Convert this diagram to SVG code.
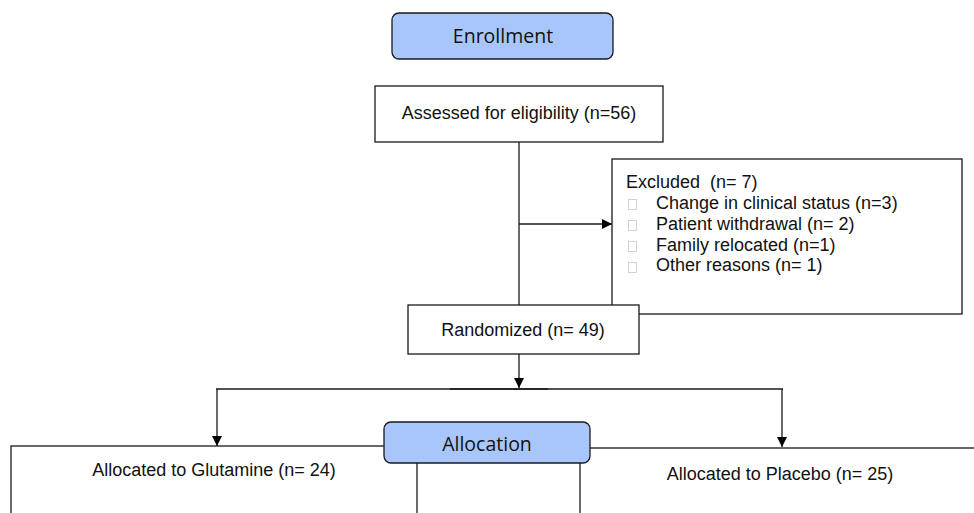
<svg xmlns="http://www.w3.org/2000/svg" width="974" height="513" viewBox="0 0 974 513">
<defs>
<marker id="ah" viewBox="0 0 10 10" refX="10" refY="5" markerWidth="10" markerHeight="10" markerUnits="userSpaceOnUse" orient="auto">
<path d="M0,0 L10,5 L0,10 z" fill="#000"/>
</marker>
<style>
.box{fill:#fff;stroke:#1a1a1a;stroke-width:1.3}
.phase{fill:#a9c6fa;stroke:#1a1a1a;stroke-width:1.3}
.ln{fill:none;stroke:#1a1a1a;stroke-width:1.3}
.t{font-family:"Liberation Sans",Arial,sans-serif;font-size:18px;fill:#111}
.pt{font-family:"Open Sans","Noto Sans",sans-serif;font-size:19.5px;fill:#111;text-anchor:middle}
.sq{fill:#fff;stroke:#c8c8c8;stroke-width:0.8}
</style>
</defs>
<rect width="974" height="513" fill="#fff"/>
<g id="connectors">
<line class="ln" x1="519" y1="142" x2="519" y2="305"/>
<line class="ln" x1="519" y1="224" x2="612" y2="224" marker-end="url(#ah)"/>
<line class="ln" x1="519" y1="354" x2="519" y2="388" marker-end="url(#ah)"/>
<line class="ln" x1="216" y1="389" x2="783" y2="389" stroke="#444"/>
<line class="ln" x1="450" y1="389" x2="548" y2="389" stroke-width="1.6"/>
<line class="ln" x1="217" y1="389" x2="217" y2="446" marker-end="url(#ah)"/>
<line class="ln" x1="782" y1="389" x2="782" y2="447" marker-end="url(#ah)"/>
</g>
<g id="enrollment">
<rect class="phase" x="392" y="13" width="221" height="46" rx="7"/>
<text class="pt" x="503" y="43">Enrollment</text>
</g>
<g id="assessed">
<rect class="box" x="375" y="86" width="288" height="56"/>
<text class="t" x="519" y="119" text-anchor="middle">Assessed for eligibility (n=56)</text>
</g>
<g id="excluded">
<rect class="box" x="612" y="159" width="350" height="155"/>
<text class="t" x="626" y="188" xml:space="preserve">Excluded  (n= 7)</text>
<rect class="sq" x="628.5" y="199.5" width="8" height="10"/>
<rect class="sq" x="628.5" y="220.5" width="8" height="10"/>
<rect class="sq" x="628.5" y="241.5" width="8" height="10"/>
<rect class="sq" x="628.5" y="262.5" width="8" height="10"/>
<text class="t" x="656" y="209">Change in clinical status (n=3)</text>
<text class="t" x="656" y="230">Patient withdrawal (n= 2)</text>
<text class="t" x="656" y="251">Family relocated (n=1)</text>
<text class="t" x="656" y="271">Other reasons (n= 1)</text>
</g>
<g id="randomized">
<rect class="box" x="408" y="305" width="231" height="49"/>
<text class="t" x="523" y="336" text-anchor="middle">Randomized (n= 49)</text>
</g>
<g id="glutamine">
<rect class="box" x="11" y="446" width="406" height="80"/>
<text class="t" x="214" y="476" text-anchor="middle">Allocated to Glutamine (n= 24)</text>
</g>
<g id="placebo">
<rect class="box" x="580" y="448" width="410" height="80"/>
<text class="t" x="780" y="480" text-anchor="middle">Allocated to Placebo (n= 25)</text>
</g>
<g id="allocation">
<rect class="phase" x="384" y="422" width="206" height="41" rx="7"/>
<text class="pt" x="487" y="451">Allocation</text>
</g>
</svg>
